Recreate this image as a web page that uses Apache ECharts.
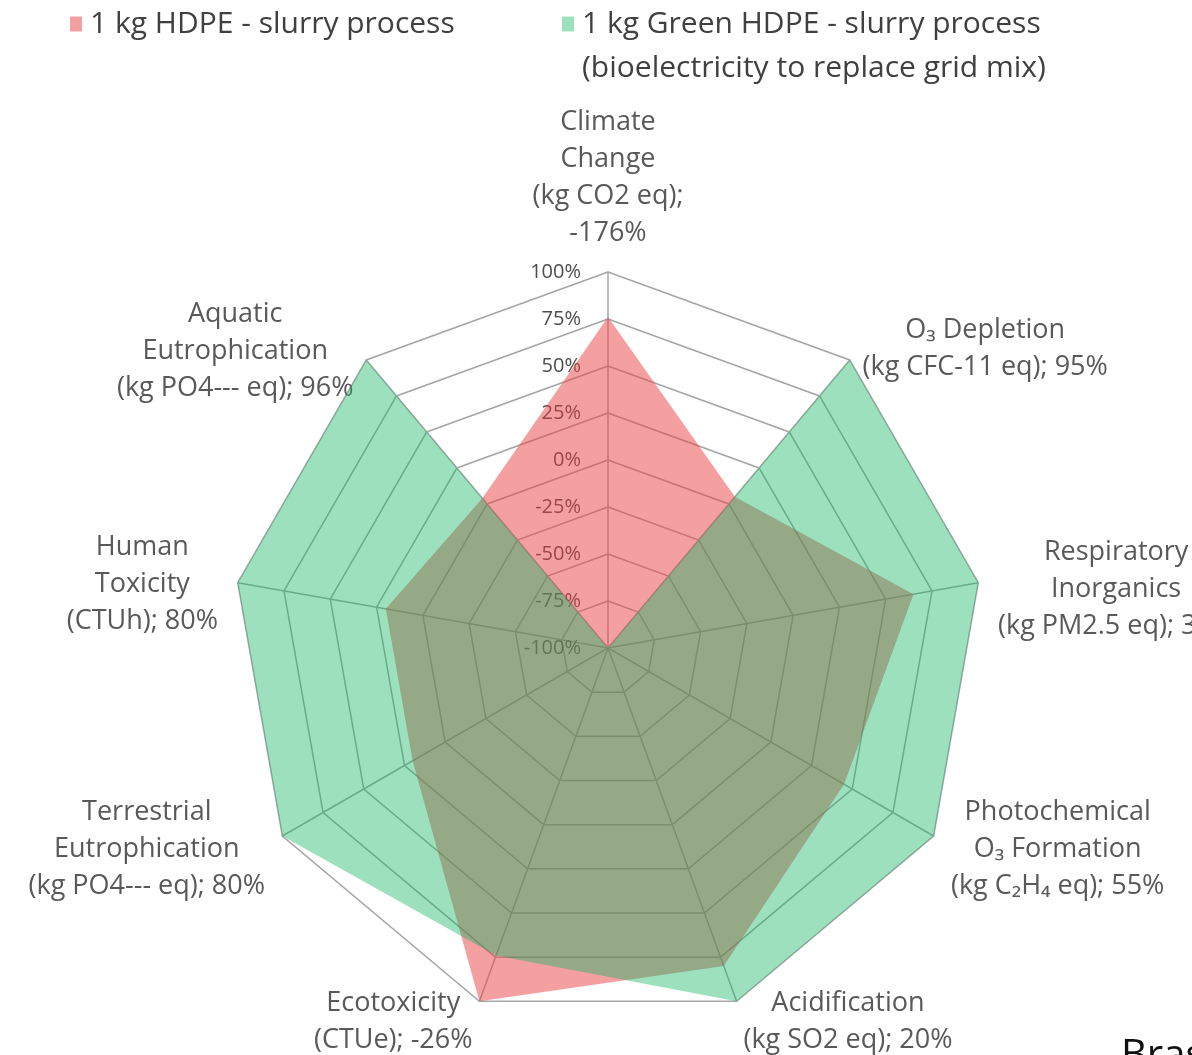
<!DOCTYPE html>
<html><head><meta charset="utf-8">
<script src="https://cdn.jsdelivr.net/npm/echarts@6/dist/echarts.min.js"></script>
<style>html,body{margin:0;padding:0;background:#fff;}#chart{width:1192px;height:1055px;}</style>
</head><body><div id="chart"></div>
<script>
// Indicators listed counter-clockwise from the top (ECharts radar order)
const categories = [
  'Climate\nChange\n(kg CO2 eq);\n-176%',
  'Aquatic\nEutrophication\n(kg PO4--- eq); 96%',
  'Human\nToxicity\n(CTUh); 80%',
  'Terrestrial\nEutrophication\n(kg PO4--- eq); 80%',
  'Ecotoxicity\n(CTUe); -26%',
  'Acidification\n(kg SO2 eq); 20%',
  'Photochemical\nO₃ Formation\n(kg C₂H₄ eq); 55%',
  'Respiratory\nInorganics\n(kg PM2.5 eq); 35%',
  'O₃ Depletion\n(kg CFC-11 eq); 95%'
];
const seriesNames = ['1 kg HDPE - slurry process', '1 kg Green HDPE - slurry process'];
const legendSubtitle = '(bioelectricity to replace grid mix)';
const hdpeValues = [76, 4, 20, 20, 100, 80, 45, 65, 5];
const greenHdpeValues = [-100, 100, 100, 100, 74, 100, 100, 100, 100];
const tickValues = [-100, -75, -50, -25, 0, 25, 50, 75, 100];
const tickLabels = ['-100%', '-75%', '-50%', '-25%', '0%', '25%', '50%', '75%', '100%'];
const footerText = 'Braskem';

// label styling: downward nudge (px) of each axis name block
const nameNudge = [0, 7, 5, 3, 2, 2, 3, 10, 4];

const FONT = '"Open Sans", "Noto Sans", "DejaVu Sans", sans-serif';
const chart = echarts.init(document.getElementById('chart'));
const axisMin = tickValues[0], axisMax = tickValues[tickValues.length - 1];

const rich = { c: { align: 'center', fontFamily: FONT, fontSize: 27, lineHeight: 37, color: '#595959' } };
nameNudge.forEach(n => { if (n > 0) rich['s' + n] = { fontSize: 1, lineHeight: 2 * n }; });

chart.setOption({
  animation: false,
  backgroundColor: '#ffffff',
  legend: [
    { data: [seriesNames[0]], left: 65, top: 4, icon: 'rect', itemWidth: 12, itemHeight: 15,
      selectedMode: false, textStyle: { fontFamily: FONT, fontSize: 30, color: '#404040', padding: [0, 0, 0, 3] } },
    { data: [seriesNames[1]], left: 557, top: 4, icon: 'rect', itemWidth: 12, itemHeight: 15,
      selectedMode: false, textStyle: { fontFamily: FONT, fontSize: 30, color: '#404040', padding: [0, 0, 0, 3] } }
  ],
  graphic: [
    { type: 'text', left: 582, top: 53, silent: true,
      style: { text: legendSubtitle, font: '30px ' + FONT, fill: '#404040' } },
    { type: 'text', left: 1121, top: 1037, silent: true,
      style: { text: footerText, font: '40px "Open Sans", sans-serif', fill: '#111111' } }
  ],
  radar: {
    center: [608, 648],
    radius: 376,
    startAngle: 90,
    splitNumber: tickValues.length - 1,
    shape: 'polygon',
    nameGap: 20,
    indicator: categories.map((c, i) => {
      const o = { name: c, min: axisMin, max: axisMax };
      if (i === 0) o.axisLabel = { show: true };
      return o;
    }),
    axisName: {
      color: '#595959',
      fontFamily: FONT,
      fontSize: 27,
      formatter: (name) => {
        const idx = categories.indexOf(name);
        const n = idx >= 0 ? nameNudge[idx] : 0;
        const body = name.split('\n').map(l => '{c|' + l + '}').join('\n');
        return n > 0 ? '{s' + n + '| }\n' + body : body;
      },
      rich: rich
    },
    splitArea: { show: false },
    splitLine: { lineStyle: { color: '#a6a6a6', width: 1.5 } },
    axisLine: { lineStyle: { color: '#a6a6a6', width: 1.5 } },
    axisTick: { show: false },
    axisLabel: {
      show: false,
      margin: 27,
      fontFamily: FONT,
      fontSize: 20,
      color: '#4d4d4d',
      formatter: (v) => tickLabels[tickValues.indexOf(Math.round(v))] || (v + '%')
    }
  },
  series: [{
    type: 'radar',
    symbol: 'none',
    silent: true,
    lineStyle: { width: 0, opacity: 0 },
    emphasis: { disabled: true },
    data: [
      { name: seriesNames[0], value: hdpeValues,
        itemStyle: { color: 'rgba(236,66,66,0.5)' },
        areaStyle: { color: 'rgba(236,66,66,0.5)', opacity: 1 } },
      { name: seriesNames[1], value: greenHdpeValues,
        itemStyle: { color: 'rgba(20,180,100,0.42)' },
        areaStyle: { color: 'rgba(20,180,100,0.42)', opacity: 1 } }
    ]
  }]
});
</script></body></html>
